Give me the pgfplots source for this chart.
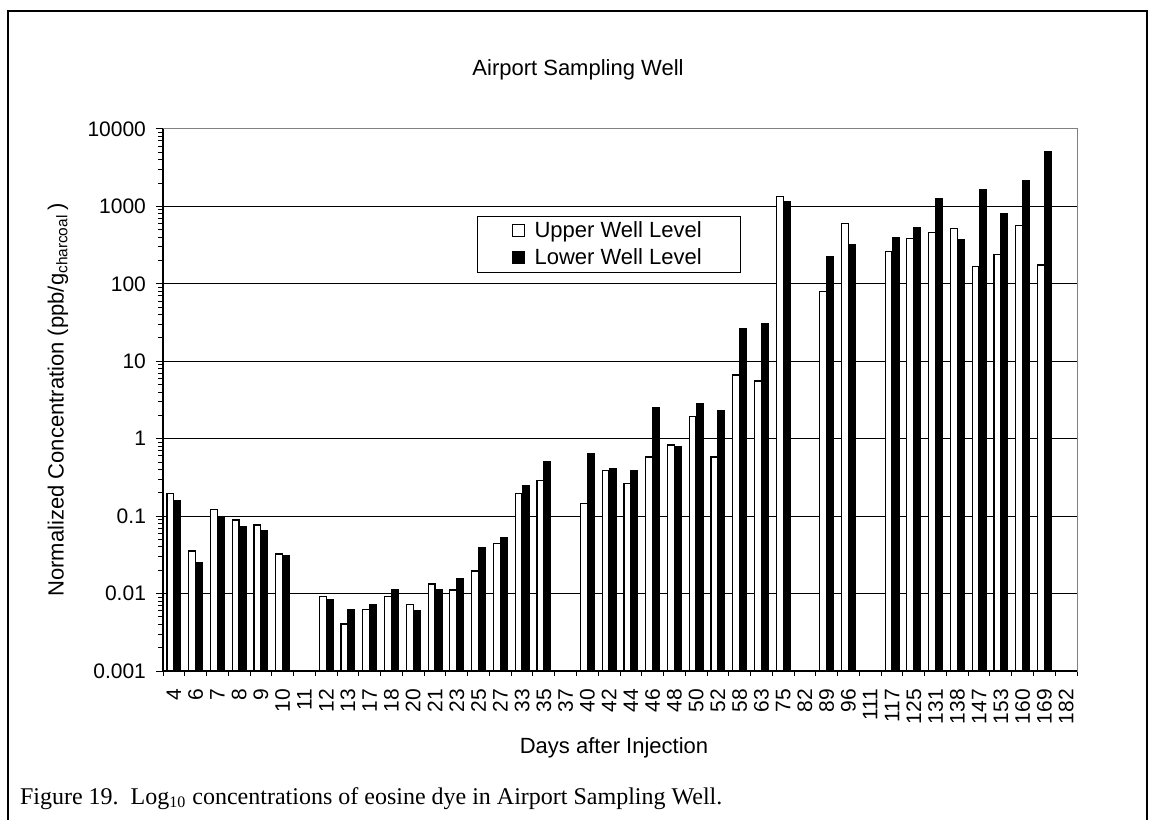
\documentclass[border=0pt]{standalone}
\usepackage{fontspec}
\setmainfont{Liberation Sans}
\newfontfamily\capfont{Liberation Serif}
\usepackage{pgfplots}
\pgfplotsset{compat=1.18}
\newcommand\fs{\fontsize{10.5pt}{12pt}\selectfont}
\newcommand\fl{\fontsize{11pt}{13pt}\selectfont}

\begin{document}
\begin{tikzpicture}
\useasboundingbox (0,0) rectangle (575.5pt,410pt);
\draw[line width=1.2pt] (4pt,0pt) -- (4pt,404.5pt) -- (573.5pt,404.5pt) -- (573.5pt,0pt);
\begin{axis}[
  at={(81.5pt,74.5pt)}, anchor=south west,
  scale only axis, width=457pt, height=271pt,
  ymode=log, ymin=0.001, ymax=10000, log origin y=infty,
  xmin=-0.5, xmax=41.5,
  ybar=0.1pt, bar width=3.4pt,
  xtick={0,...,41},
  xticklabels={4,6,7,8,9,10,11,12,13,17,18,20,21,23,25,27,33,35,37,40,42,44,46,48,50,52,58,63,75,82,89,96,111,117,125,131,138,147,153,160,169,182},
  major x tick style={draw=none},
  minor xtick={-0.5,0.5,...,41.5},
  xtick pos=bottom, ytick pos=left,
  ytick={0.001,0.01,0.1,1,10,100,1000,10000},
  yticklabels={0.001,0.01,0.1,1,10,100,1000,10000},
  tick align=outside, major tick length=3.5pt, minor tick length=2.5pt,
  tick style={black, line width=0.5pt},
  ymajorgrids, major grid style={black, line width=0.5pt},
  axis line style={gray, line width=0.5pt},
  yticklabel style={font=\fs, xshift=-1.5pt},
  xticklabel style={font=\fs, yshift=-2pt, rotate=90, anchor=east},
  legend style={at={(0.3435,0.8395)}, anchor=north west, draw=black, line width=0.5pt,
    font=\fl, inner xsep=17.5pt, inner ysep=0.5pt, row sep=0pt},
  legend cell align=left,
  after end axis/.code={\draw[black, line width=0.6pt] (rel axis cs:0,1) -- (rel axis cs:0,0) -- (rel axis cs:1,0);},
]
\addplot[draw=black, fill=white, line width=0.6pt,
  legend image code/.code={\draw[draw=black, fill=white, line width=0.5pt] (0pt,-3pt) rectangle (6pt,3pt); \path (8.5pt,0pt);}]
coordinates {
(0,0.197) (1,0.0355) (2,0.122) (3,0.089) (4,0.077) (5,0.0324)
(7,0.0091) (8,0.00405) (9,0.0062) (10,0.0091) (11,0.0072) (12,0.0133)
(13,0.0111) (14,0.0196) (15,0.0446) (16,0.195) (17,0.287)
(19,0.145) (20,0.386) (21,0.265) (22,0.58) (23,0.83) (24,1.92) (25,0.58)
(26,6.65) (27,5.56) (28,1336) (30,79.2) (31,606)
(33,261) (34,387) (35,457) (36,521) (37,167) (38,241) (39,564) (40,175)
};
\addlegendentry{Upper Well Level}
\addplot[draw=black, fill=black, line width=0.6pt,
  legend image code/.code={\draw[draw=black, fill=black, line width=0.5pt] (0pt,-3pt) rectangle (6pt,3pt); \path (8.5pt,0pt);}]
coordinates {
(0,0.158) (1,0.0248) (2,0.098) (3,0.073) (4,0.066) (5,0.0308)
(7,0.00826) (8,0.0062) (9,0.00726) (10,0.0112) (11,0.0061) (12,0.0112)
(13,0.0154) (14,0.0388) (15,0.0527) (16,0.247) (17,0.505)
(19,0.64) (20,0.41) (21,0.39) (22,2.54) (23,0.80) (24,2.81) (25,2.33)
(26,26.1) (27,30.9) (28,1151) (30,224) (31,320)
(33,394) (34,531) (35,1247) (36,368) (37,1663) (38,798) (39,2174) (40,5090)
};
\addlegendentry{Lower Well Level}
\end{axis}
\node[font=\fl, anchor=center] at (289pt,375pt) {Airport Sampling Well};
\node[font=\fl, rotate=90, anchor=center] at (29pt,210pt) {Normalized Concentration (ppb/g\textsubscript{charcoal}\,)};
\node[font=\fl, anchor=base] at (307pt,33.5pt) {Days after Injection};
\node[font=\capfont\fontsize{12pt}{14pt}\selectfont, anchor=base west] at (6.5pt,8pt) {Figure 19.\ \ Log\textsubscript{10} concentrations of eosine dye in Airport Sampling Well.};
\end{tikzpicture}
\end{document}
